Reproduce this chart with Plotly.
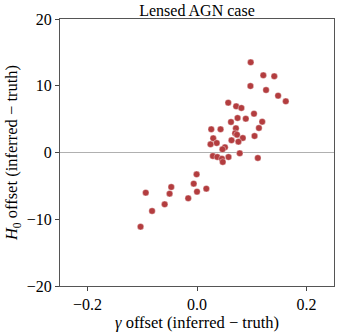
import plotly.graph_objects as go

gamma_offset = [0.098, 0.121, 0.141, 0.0975, 0.126, 0.148, 0.162, 0.057, 0.0715, 0.081,
                0.104, 0.074, 0.089, 0.062, 0.119, 0.026, 0.043, 0.071, 0.113, 0.0696,
                0.073, 0.0296, 0.0836, 0.105, 0.063, 0.036, 0.0756, 0.0247, 0.051, 0.0465,
                0.078, 0.029, 0.037, 0.0575, 0.0455, 0.047, 0.111, -0.0007, -0.006, -0.047,
                -0.0935, -0.050, 0.0, 0.017, -0.016, -0.059, -0.082, -0.103]
h0_offset = [13.51, 11.57, 11.42, 9.96, 9.36, 8.51, 7.67, 7.46, 6.92, 6.67,
             5.81, 5.17, 5.06, 4.57, 4.61, 3.48, 3.48, 3.63, 3.67, 2.88,
             2.67, 2.13, 2.17, 2.47, 1.83, 1.42, 1.62, 1.23, 0.78, 0.48,
             -0.12, -0.52, -0.67, -0.67, -0.93, -1.42, -0.82, -3.27, -4.67, -5.17,
             -6.02, -6.17, -5.87, -5.42, -6.86, -7.76, -8.76, -11.12]

x_ticks = [-0.2, 0.0, 0.2]
x_tick_labels = ["\u22120.2", "0.0", "0.2"]
y_ticks = [-20, -10, 0, 10, 20]
y_tick_labels = ["\u221220", "\u221210", "0", "10", "20"]

font_family = "Liberation Serif"

fig = go.Figure()
fig.add_trace(go.Scatter(
    x=gamma_offset, y=h0_offset, mode="markers",
    marker=dict(size=6.5, color="#b33d3f", line=dict(color="rgba(255,255,255,0.6)", width=0.6)),
    showlegend=False,
))
fig.add_hline(y=0, line=dict(color="#b0b0b0", width=1.2), layer="below")

fig.update_layout(
    width=339, height=332,
    margin=dict(l=60, r=5, t=19, b=46, autoexpand=False),
    paper_bgcolor="white", plot_bgcolor="white",
    font=dict(family=font_family, size=14, color="black"),
    title=dict(text="Lensed AGN case", xref="paper", x=0.5, xanchor="center",
               yref="container", y=0.970, yanchor="middle",
               font=dict(family=font_family, size=16, color="black")),
)
fig.update_xaxes(
    range=[-0.25, 0.25], tickvals=x_ticks, ticktext=x_tick_labels,
    ticks="outside", ticklen=4, tickcolor="#444", showgrid=False, zeroline=False,
    showline=True, linecolor="#555", linewidth=1, mirror=True, automargin=False,
    tickfont=dict(family=font_family, size=16),
    title=dict(text="<i>\u03b3</i> offset (inferred \u2212 truth)",
               font=dict(family=font_family, size=16.5), standoff=0),
)
fig.update_yaxes(
    range=[-20, 20], tickvals=y_ticks, ticktext=y_tick_labels,
    ticks="outside", ticklen=4, tickcolor="#444", showgrid=False, zeroline=False,
    showline=True, linecolor="#555", linewidth=1, mirror=True, automargin=False,
    tickfont=dict(family=font_family, size=16),
    title=dict(text="<i>H</i><sub>0</sub> offset (inferred \u2212 truth)",
               font=dict(family=font_family, size=16.5), standoff=4),
)

fig.write_html("out.html", config={"displayModeBar": False},
               post_script="document.body.style.margin='0';")
